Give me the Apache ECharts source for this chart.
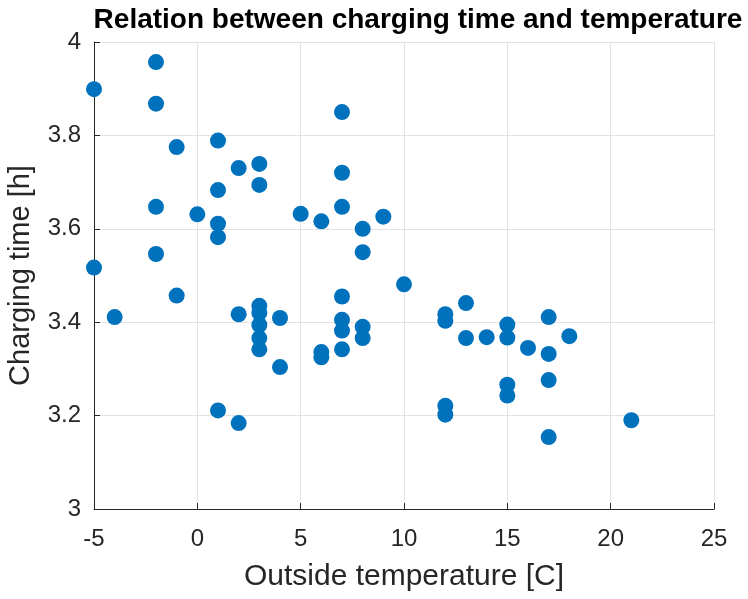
<!DOCTYPE html>
<html><head><meta charset="utf-8">
<script src="https://cdn.jsdelivr.net/npm/echarts@6/dist/echarts.min.js"></script>
<style>html,body{margin:0;padding:0;background:#fff}#c{width:748px;height:599px}</style>
</head><body><div id="c"></div>
<script>
const temperature = [-5,-5,-4,-2,-2,-2,-2,-1,-1,0,1,1,1,1,1,2,2,2,3,3,3,3,3,3,3,4,4,5,6,6,6,7,7,7,7,7,7,7,8,8,8,8,9,10,12,12,12,12,13,13,14,15,15,15,15,16,17,17,17,17,18,21];
const chargingTime = [3.899,3.517,3.411,3.957,3.868,3.647,3.546,3.775,3.457,3.631,3.789,3.683,3.611,3.582,3.211,3.730,3.417,3.184,3.739,3.694,3.435,3.420,3.394,3.366,3.342,3.409,3.304,3.632,3.616,3.336,3.325,3.850,3.720,3.647,3.455,3.405,3.382,3.342,3.600,3.550,3.390,3.366,3.626,3.481,3.417,3.403,3.221,3.202,3.441,3.366,3.368,3.395,3.367,3.266,3.243,3.345,3.411,3.332,3.276,3.154,3.370,3.190];
const titleText = 'Relation between charging time and temperature';
const xName = 'Outside temperature [C]';
const yName = 'Charging time [h]';

const data = temperature.map((t,i)=>[t, chargingTime[i]]);
const chart = echarts.init(document.getElementById('c'), null, {renderer:'canvas'});
const font = 'Liberation Sans, Arial, Helvetica, sans-serif';
chart.setOption({
  animation:false,
  title:{text:titleText, left:413, top:1, textAlign:'center',
    textStyle:{fontFamily:font, fontWeight:'bold', fontSize:28, color:'#000'}},
  grid:{left:94, right:34, top:42, bottom:90, containLabel:false, outerBoundsMode:'none'},
  xAxis:{type:'value', min:-5, max:25, interval:5,
    name:xName, nameLocation:'middle', nameGap:53,
    nameTextStyle:{fontFamily:font, fontSize:30, color:'#262626'},
    axisLine:{show:true, onZero:false, lineStyle:{color:'#262626', width:1}},
    axisTick:{show:true, inside:true, length:6, lineStyle:{color:'#262626'}},
    axisLabel:{fontFamily:font, fontSize:24, color:'#262626', margin:18},
    splitLine:{show:true, lineStyle:{color:'#e3e3e3', width:1}}},
  yAxis:{type:'value', min:3, max:4, interval:0.2,
    name:yName, nameLocation:'middle', nameGap:59, nameRotate:90,
    nameTextStyle:{fontFamily:font, fontSize:29, color:'#262626'},
    axisLine:{show:true, onZero:false, lineStyle:{color:'#262626', width:1}},
    axisTick:{show:true, inside:true, length:6, lineStyle:{color:'#262626'}},
    axisLabel:{fontFamily:font, fontSize:24, color:'#262626', margin:13,
      formatter:v=>{const r=Math.round(v*10)/10; return (r===3||r===4)?String(r):r.toFixed(1);}},
    splitLine:{show:true, lineStyle:{color:'#e3e3e3', width:1}}},
  series:[{type:'scatter', data:data, symbol:'circle', symbolSize:16,
    itemStyle:{color:'#0072BD', opacity:1}}]
});
</script></body></html>
